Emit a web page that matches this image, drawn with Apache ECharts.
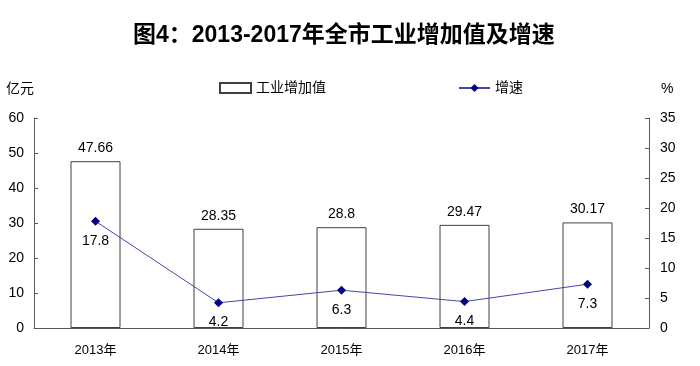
<!DOCTYPE html>
<html><head><meta charset="utf-8">
<script src="https://cdn.jsdelivr.net/npm/echarts@6/dist/echarts.min.js"></script>
<style>html,body{margin:0;padding:0;background:#fff}#c{width:700px;height:366px}</style>
</head><body><div id="c"></div>
<script>
const categories = ['2013年','2014年','2015年','2016年','2017年'];
const valueAdded = [47.66, 28.35, 28.8, 29.47, 30.17];
const growth = [17.8, 4.2, 6.3, 4.4, 7.3];
const leftTicks = {min:0, max:60, interval:10};
const rightTicks = {min:0, max:35, interval:5};

const FF = '"Liberation Sans", Arial, "Noto Sans CJK SC", sans-serif';
const axisColor = '#595959';
const chart = echarts.init(document.getElementById('c'));
chart.setOption({
  animation:false,
  textStyle:{fontFamily:FF},
  title:{text:'图4：2013-2017年全市工业增加值及增速', left:128, top:19,
    textStyle:{fontSize:23, fontWeight:'bold', color:'#000', fontFamily:'"Liberation Sans", "Noto Sans CJK SC", sans-serif'}},
  legend:{left:214, top:76, itemGap:132, itemWidth:31, itemHeight:10,
    textStyle:{fontSize:14, color:'#000', fontFamily:FF},
    data:[{name:'工业增加值', icon:'rect'}, {name:'增速'}]},
  grid:{left:34, right:51, top:118, bottom:38},
  xAxis:{type:'category', data:categories,
    axisLine:{lineStyle:{color:axisColor}},
    axisTick:{inside:true, length:5, lineStyle:{color:axisColor}},
    axisLabel:{color:'#000', fontSize:13, margin:16, fontFamily:FF}},
  yAxis:[
    {type:'value', min:leftTicks.min, max:leftTicks.max, interval:leftTicks.interval,
     name:'亿元', nameLocation:'end', nameGap:22,
     nameTextStyle:{align:'right', fontSize:14, color:'#000', fontFamily:FF, padding:[0,0,0,0]},
     axisLine:{show:true, lineStyle:{color:axisColor}},
     axisTick:{show:true, inside:true, length:4, lineStyle:{color:axisColor}},
     splitLine:{show:false},
     axisLabel:{color:'#000', fontSize:14, margin:10, fontFamily:FF}},
    {type:'value', min:rightTicks.min, max:rightTicks.max, interval:rightTicks.interval,
     name:'%', nameLocation:'end', nameGap:22,
     nameTextStyle:{align:'left', fontSize:14, color:'#000', fontFamily:FF, padding:[0,0,0,12]},
     axisLine:{show:true, lineStyle:{color:axisColor}},
     axisTick:{show:true, inside:true, length:4, lineStyle:{color:axisColor}},
     splitLine:{show:false},
     axisLabel:{color:'#000', fontSize:14, margin:11, fontFamily:FF}}
  ],
  series:[
    {name:'工业增加值', type:'bar', data:valueAdded, barWidth:50,
     itemStyle:{color:'#fff', borderColor:'#404040', borderWidth:1},
     label:{show:true, position:'top', distance:6, fontSize:14, color:'#000', fontFamily:FF}},
    {name:'增速', type:'line', yAxisIndex:1, data:growth,
     symbol:'diamond', symbolSize:9,
     itemStyle:{color:'#000080'},
     lineStyle:{color:'#4646a8', width:1},
     label:{show:true, position:'bottom', distance:8, fontSize:14, color:'#000', fontFamily:FF}}
  ]
});
</script></body></html>
